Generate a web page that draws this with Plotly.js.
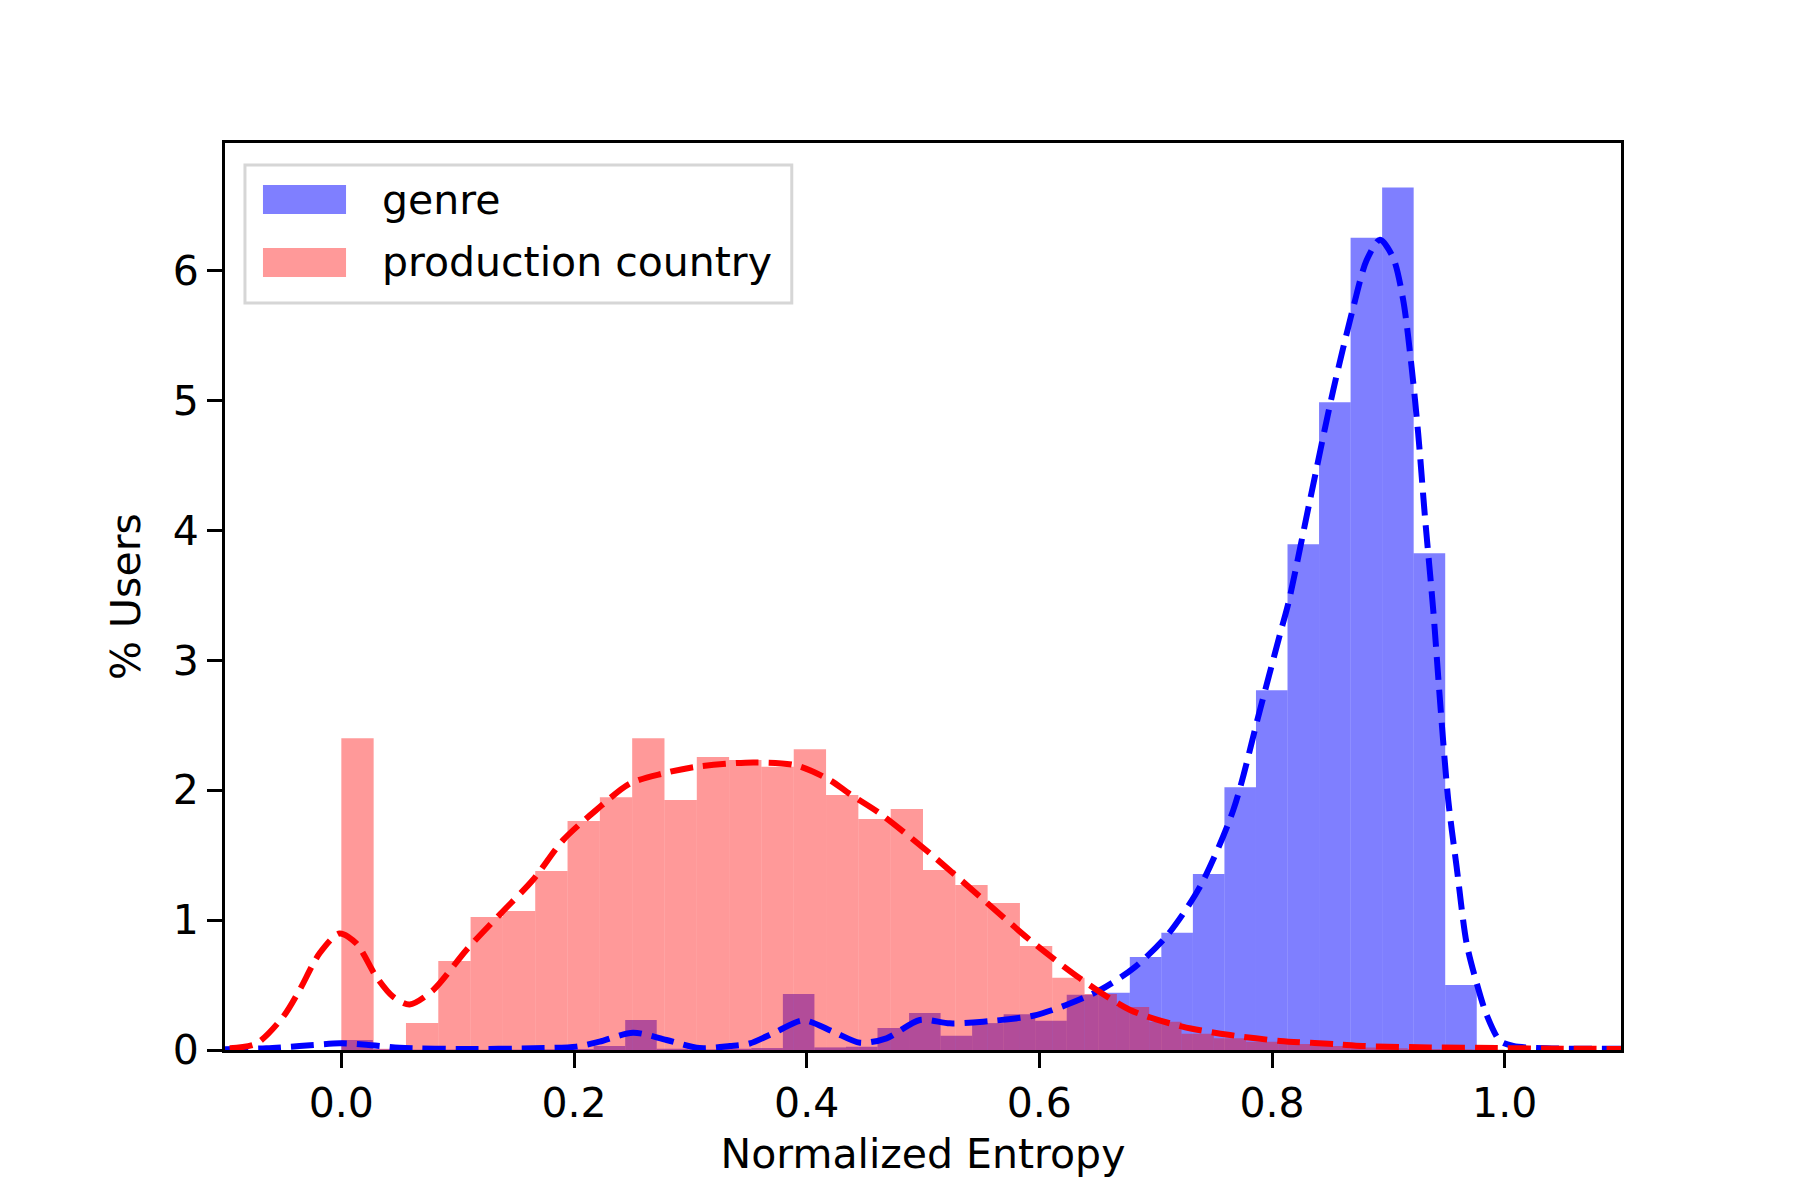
<!DOCTYPE html>
<html>
<head>
<meta charset="utf-8">
<script src="https://cdn.plot.ly/plotly-3.0.1.min.js"></script>
<style>
  body { margin: 0; background: #fff; }
  #chart { width: 1800px; height: 1200px; }
</style>
</head>
<body>
<div id="chart"></div>
<script>
// histogram bins (36 bins each)
var genreBinStart = 0, genreBinWidth = 0.976 / 36;
var countryBinStart = 0, countryBinWidth = 1 / 36;

var genreHeights = [0.077, 0.005, 0.003, 0.003, 0.002, 0.003, 0.005, 0.008, 0.03, 0.231,
                    0.01, 0.005, 0.01, 0.015, 0.431, 0.02, 0.025, 0.17, 0.285, 0.11,
                    0.207, 0.276, 0.225, 0.426, 0.44, 0.716, 0.903, 1.354, 2.023, 2.769,
                    3.892, 4.985, 6.25, 6.638, 3.823, 0.50];

var countryHeights = [2.40, 0.01, 0.208, 0.685, 1.023, 1.069, 1.377, 1.762, 1.946, 2.40,
                      1.923, 2.254, 2.231, 2.18, 2.315, 1.962, 1.777, 1.854, 1.385, 1.269,
                      1.131, 0.80, 0.556, 0.43, 0.33, 0.218, 0.125, 0.09, 0.064, 0.046,
                      0.03, 0.02, 0.013, 0.008, 0.005, 0.003];

// kde curves
var genreKdeX = [-0.1, -0.0645, -0.036, -0.0015, 0.0215, 0.05, 0.1075, 0.165, 0.202, 0.222,
                 0.2507, 0.2795, 0.308, 0.334, 0.351, 0.374, 0.397, 0.4227, 0.4457, 0.4686,
                 0.4973, 0.523, 0.5517, 0.5947, 0.623, 0.652, 0.6807, 0.709, 0.738, 0.7667,
                 0.7896, 0.807, 0.814, 0.8326, 0.8526, 0.87, 0.8813, 0.8928, 0.904, 0.9128,
                 0.92, 0.9257, 0.9315, 0.9386, 0.9444, 0.9515, 0.9587, 0.9673, 0.976, 0.9845,
                 0.996, 1.0074, 1.036, 1.1];
var genreKdeY = [0.005, 0.013, 0.03, 0.051, 0.041, 0.018, 0.008, 0.013, 0.026, 0.064,
                 0.133, 0.077, 0.015, 0.03, 0.05, 0.141, 0.228, 0.141, 0.056, 0.09,
                 0.231, 0.205, 0.218, 0.264, 0.346, 0.46, 0.628, 0.872, 1.255, 1.846,
                 2.615, 3.205, 3.436, 4.23, 5.077, 5.72, 6.077, 6.236, 6.10, 5.77,
                 5.256, 4.74, 4.10, 3.385, 2.69, 1.923, 1.41, 0.82, 0.513, 0.27,
                 0.07, 0.031, 0.013, 0.01];

var countryKdeX = [-0.096, -0.073, -0.05, -0.036, -0.0187, -0.0015, 0.0129, 0.03, 0.0444, 0.0587,
                   0.0788, 0.1075, 0.137, 0.1648, 0.1906, 0.219, 0.248, 0.2765, 0.305, 0.354,
                   0.391, 0.42, 0.437, 0.463, 0.506, 0.549, 0.592, 0.635, 0.678, 0.723,
                   0.764, 0.807, 0.856, 0.878, 0.936, 0.993, 1.05, 1.1];
var countryKdeY = [0.013, 0.05, 0.256, 0.46, 0.744, 0.897, 0.82, 0.564, 0.41, 0.351,
                   0.46, 0.77, 1.05, 1.31, 1.615, 1.846, 2.05, 2.128, 2.18, 2.213,
                   2.19, 2.077, 1.97, 1.82, 1.513, 1.18, 0.846, 0.551, 0.308, 0.18,
                   0.115, 0.07, 0.044, 0.031, 0.02, 0.015, 0.01, 0.008];

var xTickVals = [0.0, 0.2, 0.4, 0.6, 0.8, 1.0];
var yTickVals = [0, 1, 2, 3, 4, 5, 6];

function binCenters(start, width, n) {
  var c = [];
  for (var i = 0; i < n; i++) c.push(start + (i + 0.5) * width);
  return c;
}

var traceGenre = {
  x: binCenters(genreBinStart, genreBinWidth, genreHeights.length),
  y: genreHeights,
  width: genreBinWidth,
  type: 'bar',
  name: 'genre',
  marker: { color: 'rgba(0,0,255,0.5)', line: { width: 0 } },
  hoverinfo: 'skip'
};

var traceCountry = {
  x: binCenters(countryBinStart, countryBinWidth, countryHeights.length),
  y: countryHeights,
  width: countryBinWidth,
  type: 'bar',
  name: 'production country',
  marker: { color: 'rgba(255,0,0,0.4)', line: { width: 0 } },
  hoverinfo: 'skip'
};

var kdeGenre = {
  x: genreKdeX,
  y: genreKdeY,
  type: 'scatter',
  mode: 'lines',
  line: { color: '#0000ff', width: 6, dash: '23px,10px', shape: 'spline', smoothing: 0.8 },
  showlegend: false
};

var kdeCountry = {
  x: countryKdeX,
  y: countryKdeY,
  type: 'scatter',
  mode: 'lines',
  line: { color: '#ff0000', width: 6, dash: '23px,10px', shape: 'spline', smoothing: 0.8 },
  showlegend: false
};

var font = { family: 'DejaVu Sans, sans-serif', size: 41, color: '#000' };

var layout = {
  width: 1800,
  height: 1200,
  margin: { l: 225, r: 179, t: 143, b: 150 },
  paper_bgcolor: '#fff',
  plot_bgcolor: '#fff',
  barmode: 'overlay',
  showlegend: false,
  font: font,
  xaxis: {
    range: [-0.1, 1.1],
    tickvals: xTickVals,
    ticktext: xTickVals.map(function (v) { return v.toFixed(1); }),
    ticks: 'outside', ticklen: 15, tickwidth: 3, tickcolor: '#000',
    showline: true, linecolor: '#000', linewidth: 3, mirror: true,
    showgrid: false, zeroline: false,
    tickfont: font,
    title: { text: 'Normalized Entropy', font: font, standoff: 14 }
  },
  yaxis: {
    range: [0, 6.98],
    tickvals: yTickVals,
    ticks: 'outside', ticklen: 15, tickwidth: 3, tickcolor: '#000',
    showline: true, linecolor: '#000', linewidth: 3, mirror: true,
    showgrid: false, zeroline: false,
    tickfont: font,
    title: { text: '% Users', font: font, standoff: 20 }
  },
  shapes: [
    { type: 'rect', xref: 'paper', yref: 'paper', x0: 0.0143, x1: 0.406, y0: 0.8236, y1: 0.9757,
      line: { color: '#d6d6d6', width: 3 }, fillcolor: 'rgba(255,255,255,0.8)' },
    { type: 'rect', xref: 'paper', yref: 'paper', x0: 0.0272, x1: 0.0867, y0: 0.9217, y1: 0.9537,
      line: { width: 0 }, fillcolor: 'rgba(0,0,255,0.5)' },
    { type: 'rect', xref: 'paper', yref: 'paper', x0: 0.0272, x1: 0.0867, y0: 0.8523, y1: 0.8842,
      line: { width: 0 }, fillcolor: 'rgba(255,0,0,0.4)' }
  ],
  annotations: [
    { xref: 'paper', yref: 'paper', x: 0.111, y: 0.9377, xanchor: 'left', yanchor: 'middle',
      text: 'genre', showarrow: false, font: font },
    { xref: 'paper', yref: 'paper', x: 0.111, y: 0.8683, xanchor: 'left', yanchor: 'middle',
      text: 'production country', showarrow: false, font: font }
  ]
};

Plotly.newPlot('chart', [traceGenre, traceCountry, kdeGenre, kdeCountry], layout, { displayModeBar: false });
</script>
</body>
</html>
